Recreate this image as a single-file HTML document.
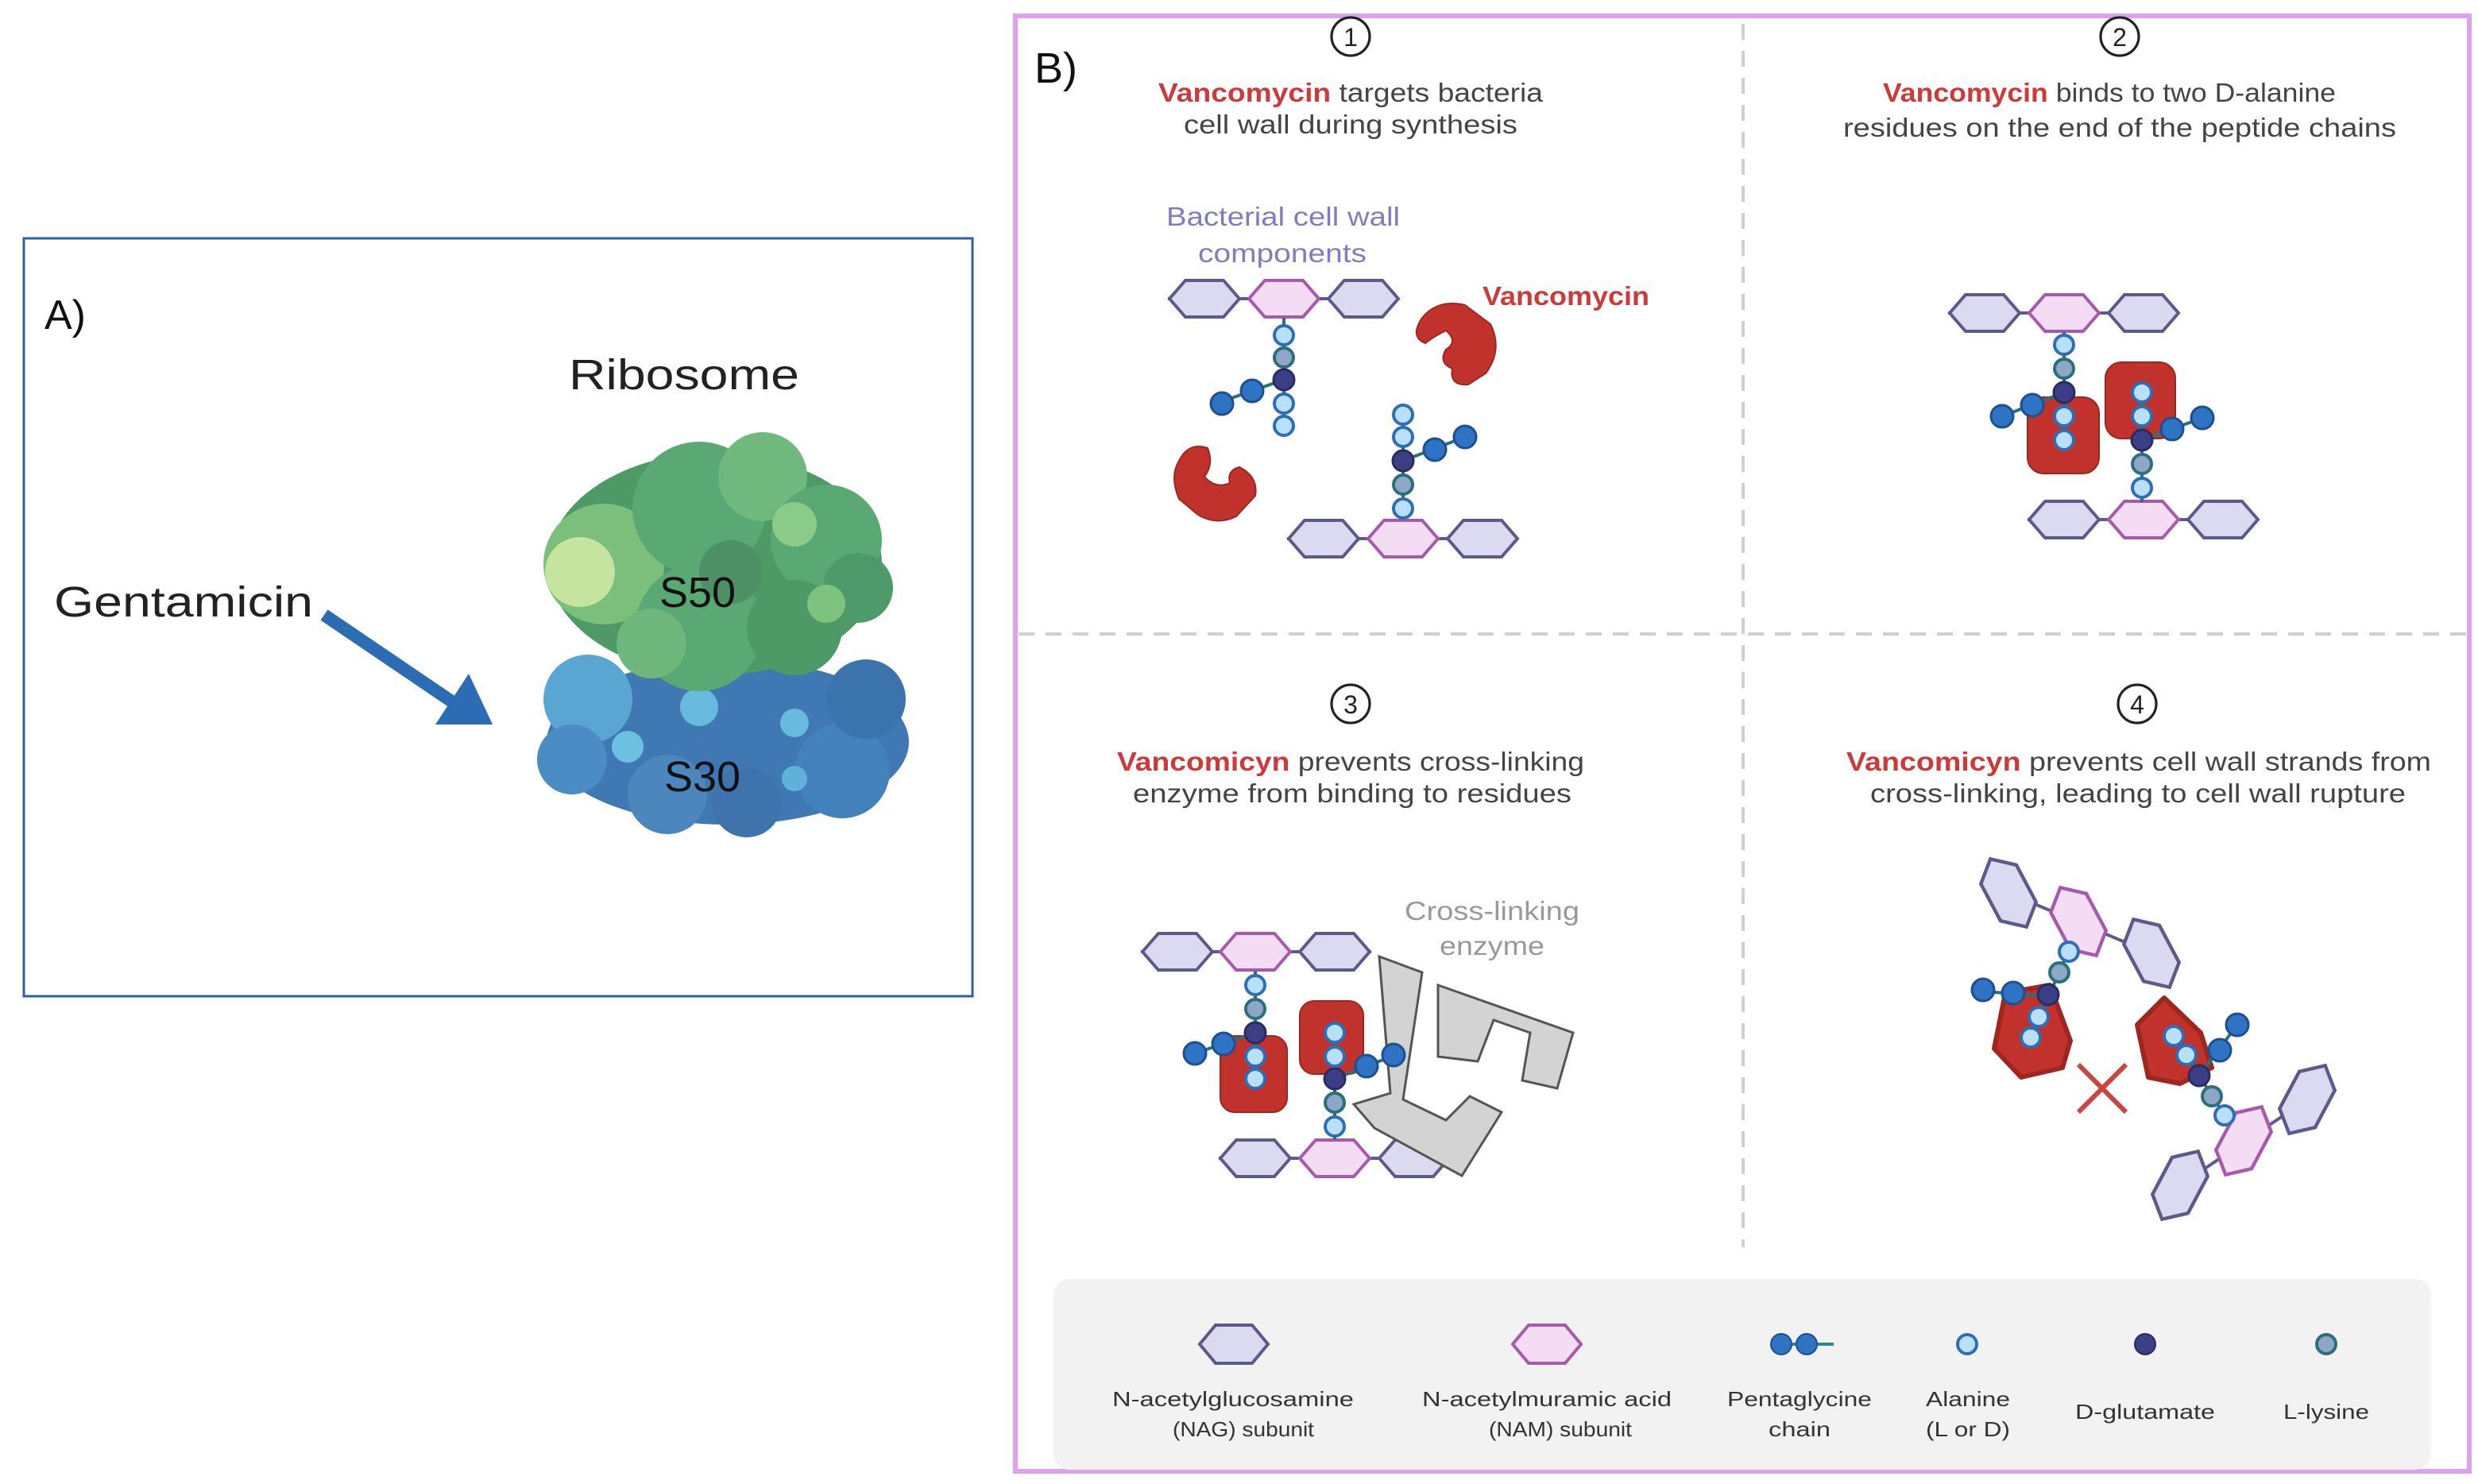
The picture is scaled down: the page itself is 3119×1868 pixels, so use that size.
<!DOCTYPE html>
<html><head><meta charset="utf-8">
<style>
html,body{margin:0;padding:0;background:#fff;}
svg{display:block;}
text{font-family:"Liberation Sans",sans-serif;}
</style></head>
<body>
<svg width="3119" height="1868" viewBox="0 0 1559.5 934" xmlns="http://www.w3.org/2000/svg">
<defs>
<polygon id="nag" points="-22,0 -12,-11.5 12,-11.5 22,0 12,11.5 -12,11.5" fill="#dcdaf0" stroke="#5c5a8a" stroke-width="2"/>
<polygon id="nam" points="-22,0 -12,-11.5 12,-11.5 22,0 12,11.5 -12,11.5" fill="#f4dcf4" stroke="#a65aab" stroke-width="2"/>
<circle id="ala" r="6" fill="#b9e0fb" stroke="#2f6db5" stroke-width="2"/>
<circle id="lys" r="6" fill="#8ea6c8" stroke="#2c6f7a" stroke-width="2"/>
<circle id="glu" r="6.5" fill="#3c3f85" stroke="#2a2c60" stroke-width="1.5"/>
<circle id="gly" r="7" fill="#2f73c4" stroke="#1d4f91" stroke-width="1.5"/>
</defs>

<!-- Panel A -->
<rect x="15" y="150" width="597" height="477" fill="#fff" stroke="#2e5fa8" stroke-width="1.5"/>
<text x="28" y="207" font-size="26" fill="#111">A)</text>
<text x="358" y="245" font-size="27" fill="#222" textLength="145" lengthAdjust="spacingAndGlyphs">Ribosome</text>
<text x="34" y="388" font-size="27" fill="#222" textLength="163" lengthAdjust="spacingAndGlyphs">Gentamicin</text>
<!-- ribosome S30 -->
<g>
<ellipse cx="458" cy="467" rx="114" ry="52" fill="#3f78b3"/>
<circle cx="370" cy="440" r="28" fill="#5aa6d2"/>
<circle cx="360" cy="478" r="22" fill="#4a8cc3"/>
<circle cx="420" cy="500" r="25" fill="#4b86bd"/>
<circle cx="470" cy="505" r="22" fill="#3e74ab"/>
<circle cx="530" cy="485" r="30" fill="#4281bb"/>
<circle cx="545" cy="440" r="25" fill="#3b73ad"/>
<circle cx="440" cy="445" r="12" fill="#67b9dd"/>
<circle cx="395" cy="470" r="10" fill="#6cc0e0"/>
<circle cx="500" cy="455" r="9" fill="#6ab9de"/>
<circle cx="500" cy="490" r="8" fill="#5fb0da"/>
</g>
<!-- ribosome S50 -->
<g>
<ellipse cx="450" cy="355" rx="105" ry="70" fill="#4e9a66"/>
<circle cx="380" cy="355" r="38" fill="#7cbf7c"/>
<circle cx="365" cy="360" r="22" fill="#c4e4a0"/>
<circle cx="440" cy="320" r="42" fill="#5aa873"/>
<circle cx="480" cy="300" r="28" fill="#6fb87e"/>
<circle cx="520" cy="340" r="35" fill="#5aa873"/>
<circle cx="540" cy="370" r="22" fill="#4f9a6a"/>
<circle cx="440" cy="395" r="40" fill="#5aa873"/>
<circle cx="500" cy="395" r="30" fill="#4e9a66"/>
<circle cx="410" cy="405" r="22" fill="#6eb67c"/>
<circle cx="460" cy="360" r="20" fill="#4e9066"/>
<circle cx="500" cy="330" r="14" fill="#8acb8a"/>
<circle cx="520" cy="380" r="12" fill="#7ec280"/>
</g>
<text x="415" y="382" font-size="27" fill="#111">S50</text>
<text x="418" y="498" font-size="27" fill="#111">S30</text>
<!-- arrow -->
<line x1="204" y1="387" x2="288" y2="444" stroke="#2b6cb5" stroke-width="8"/>
<polygon points="310,456 274,456 295,424" fill="#2b6cb5"/>

<!-- Panel B -->
<rect x="639" y="10" width="915" height="916" fill="#fff" stroke="#dfa0ee" stroke-width="3"/>
<text x="651" y="52" font-size="27" fill="#111">B)</text>
<line x1="1097" y1="15" x2="1097" y2="785" stroke="#cfcfcf" stroke-width="2" stroke-dasharray="10,7"/>
<line x1="641" y1="399" x2="1553" y2="399" stroke="#cfcfcf" stroke-width="2" stroke-dasharray="10,7"/>

<!-- circled numbers -->
<g fill="none" stroke="#222" stroke-width="1.6">
<circle cx="850" cy="23" r="12"/><circle cx="1334" cy="23" r="12"/>
<circle cx="850" cy="443" r="12"/><circle cx="1345" cy="443" r="12"/>
</g>
<g font-size="16" fill="#222" text-anchor="middle">
<text x="850" y="29">1</text><text x="1334" y="29">2</text>
<text x="850" y="449">3</text><text x="1345" y="449">4</text>
</g>

<!-- headings -->
<g font-size="16.5" fill="#444" lengthAdjust="spacingAndGlyphs">
<text x="729" y="64" textLength="242" lengthAdjust="spacingAndGlyphs"><tspan fill="#cc3a3a" font-weight="bold">Vancomycin</tspan> targets bacteria</text>
<text x="745" y="84" textLength="210" lengthAdjust="spacingAndGlyphs">cell wall during synthesis</text>
<text x="1185" y="64" textLength="285" lengthAdjust="spacingAndGlyphs"><tspan fill="#cc3a3a" font-weight="bold">Vancomycin</tspan> binds to two D-alanine</text>
<text x="1160" y="86" textLength="348" lengthAdjust="spacingAndGlyphs">residues on the end of the peptide chains</text>
<text x="703" y="485" textLength="294" lengthAdjust="spacingAndGlyphs"><tspan fill="#cc3a3a" font-weight="bold">Vancomicyn</tspan> prevents cross-linking</text>
<text x="713" y="505" textLength="276" lengthAdjust="spacingAndGlyphs">enzyme from binding to residues</text>
<text x="1162" y="485" textLength="368" lengthAdjust="spacingAndGlyphs"><tspan fill="#cc3a3a" font-weight="bold">Vancomicyn</tspan> prevents cell wall strands from</text>
<text x="1177" y="505" textLength="337" lengthAdjust="spacingAndGlyphs">cross-linking, leading to cell wall rupture</text>
</g>
<g font-size="16.5" fill="#7f7dc0">
<text x="734" y="142" textLength="147" lengthAdjust="spacingAndGlyphs">Bacterial cell wall</text>
<text x="754" y="165" textLength="106" lengthAdjust="spacingAndGlyphs">components</text>
</g>
<text x="933" y="192" font-size="16.5" font-weight="bold" fill="#cc3a3a" textLength="105" lengthAdjust="spacingAndGlyphs">Vancomycin</text>
<g font-size="16.5" fill="#999">
<text x="884" y="579" textLength="110" lengthAdjust="spacingAndGlyphs">Cross-linking</text>
<text x="906" y="601" textLength="66" lengthAdjust="spacingAndGlyphs">enzyme</text>
</g>

<!-- Q1 -->
<line x1="735" y1="188" x2="880" y2="188" stroke="#5c5a8a" stroke-width="2"/>
<use href="#nag" x="758" y="188"/><use href="#nam" x="808" y="188"/><use href="#nag" x="858" y="188"/>
<line x1="808" y1="200" x2="808" y2="268" stroke="#2c6f7a" stroke-width="2"/>
<line x1="808" y1="239" x2="768" y2="253" stroke="#2c6f7a" stroke-width="2"/>
<use href="#ala" x="808" y="211"/><use href="#lys" x="808" y="225"/><use href="#glu" x="808" y="239"/><use href="#ala" x="808" y="254"/><use href="#ala" x="808" y="268"/>
<use href="#gly" x="788" y="246"/><use href="#gly" x="769" y="254"/>
<line x1="810" y1="339" x2="955" y2="339" stroke="#5c5a8a" stroke-width="2"/>
<use href="#nag" x="833" y="339"/><use href="#nam" x="883" y="339"/><use href="#nag" x="933" y="339"/>
<line x1="883" y1="327" x2="883" y2="260" stroke="#2c6f7a" stroke-width="2"/>
<line x1="883" y1="290" x2="922" y2="275" stroke="#2c6f7a" stroke-width="2"/>
<use href="#ala" x="883" y="320"/><use href="#lys" x="883" y="305"/><use href="#glu" x="883" y="290"/><use href="#ala" x="883" y="275"/><use href="#ala" x="883" y="261"/>
<use href="#gly" x="903" y="283"/><use href="#gly" x="922" y="275"/>
<!-- vancomycin blobs -->
<path d="M895,200 Q905,188 922,192 L938,204 Q946,220 935,235 L924,242 Q912,243 914,232 Q905,228 910,220 Q918,215 910,208 Q902,212 897,216 Q887,212 895,200 Z" fill="#c0322b" stroke="#9e2620" stroke-width="1"/>
<path d="M742,290 Q748,278 760,282 Q764,292 758,300 Q765,308 774,304 Q772,296 780,294 Q792,300 790,312 L778,325 Q766,331 754,324 L742,314 Q736,300 742,290 Z" fill="#c0322b" stroke="#9e2620" stroke-width="1"/>

<!-- Q2 -->
<line x1="1226" y1="197" x2="1371" y2="197" stroke="#5c5a8a" stroke-width="2"/>
<line x1="1276" y1="327" x2="1421" y2="327" stroke="#5c5a8a" stroke-width="2"/>
<use href="#nag" x="1249" y="197"/><use href="#nam" x="1299" y="197"/><use href="#nag" x="1349" y="197"/>
<use href="#nag" x="1299" y="327"/><use href="#nam" x="1349" y="327"/><use href="#nag" x="1399" y="327"/>
<rect x="1276" y="250" width="45" height="48" rx="10" fill="#c0322b" stroke="#9e2620"/>
<rect x="1325" y="228" width="44" height="48" rx="10" fill="#c0322b" stroke="#9e2620"/>
<line x1="1299" y1="209" x2="1299" y2="277" stroke="#2c6f7a" stroke-width="2"/>
<line x1="1299" y1="247" x2="1260" y2="262" stroke="#2c6f7a" stroke-width="2"/>
<use href="#ala" x="1299" y="217"/><use href="#lys" x="1299" y="232"/><use href="#glu" x="1299" y="247"/><use href="#ala" x="1299" y="262"/><use href="#ala" x="1299" y="277"/>
<use href="#gly" x="1279" y="255"/><use href="#gly" x="1260" y="262"/>
<line x1="1348" y1="316" x2="1348" y2="247" stroke="#2c6f7a" stroke-width="2"/>
<line x1="1348" y1="277" x2="1386" y2="263" stroke="#2c6f7a" stroke-width="2"/>
<use href="#ala" x="1348" y="307"/><use href="#lys" x="1348" y="292"/><use href="#glu" x="1348" y="277"/><use href="#ala" x="1348" y="262"/><use href="#ala" x="1348" y="247"/>
<use href="#gly" x="1367" y="270"/><use href="#gly" x="1386" y="263"/>

<!-- Q3 -->
<line x1="718" y1="599" x2="863" y2="599" stroke="#5c5a8a" stroke-width="2"/>
<line x1="767" y1="729" x2="912" y2="729" stroke="#5c5a8a" stroke-width="2"/>
<use href="#nag" x="741" y="599"/><use href="#nam" x="790" y="599"/><use href="#nag" x="840" y="599"/>
<use href="#nag" x="790" y="729"/><use href="#nam" x="840" y="729"/><use href="#nag" x="890" y="729"/>
<polygon points="868,602 895,612 883,692 910,705 925,690 945,700 920,740 865,710 852,695 875,688" fill="#d3d3d3" stroke="#555" stroke-width="1.5"/>
<polygon points="905,620 990,650 980,685 958,680 963,650 940,642 930,668 905,665" fill="#d3d3d3" stroke="#555" stroke-width="1.5"/>
<rect x="768" y="652" width="42" height="48" rx="9" fill="#c0322b" stroke="#9e2620"/>
<rect x="818" y="630" width="40" height="46" rx="9" fill="#c0322b" stroke="#9e2620"/>
<line x1="790" y1="611" x2="790" y2="680" stroke="#2c6f7a" stroke-width="2"/>
<line x1="790" y1="650" x2="752" y2="663" stroke="#2c6f7a" stroke-width="2"/>
<use href="#ala" x="790" y="620"/><use href="#lys" x="790" y="635"/><use href="#glu" x="790" y="650"/><use href="#ala" x="790" y="665"/><use href="#ala" x="790" y="679"/>
<use href="#gly" x="770" y="657"/><use href="#gly" x="752" y="663"/>
<line x1="840" y1="717" x2="840" y2="650" stroke="#2c6f7a" stroke-width="2"/>
<line x1="840" y1="679" x2="878" y2="664" stroke="#2c6f7a" stroke-width="2"/>
<use href="#ala" x="840" y="709"/><use href="#lys" x="840" y="694"/><use href="#glu" x="840" y="679"/><use href="#ala" x="840" y="665"/><use href="#ala" x="840" y="650"/>
<use href="#gly" x="860" y="671"/><use href="#gly" x="877" y="664"/>

<!-- Q4 -->
<line x1="1264" y1="562" x2="1354" y2="600" stroke="#5c5a8a" stroke-width="2"/>
<line x1="1452" y1="692" x2="1372" y2="746" stroke="#5c5a8a" stroke-width="2"/>
<use href="#nag" transform="translate(1264,562) rotate(62) scale(1.1)"/>
<use href="#nam" transform="translate(1308,580) rotate(62) scale(1.1)"/>
<use href="#nag" transform="translate(1354,600) rotate(62) scale(1.1)"/>
<use href="#nag" transform="translate(1452,692) rotate(-62) scale(1.1)"/>
<use href="#nam" transform="translate(1412,718) rotate(-62) scale(1.1)"/>
<use href="#nag" transform="translate(1372,746) rotate(-62) scale(1.1)"/>
<path d="M1262,625 L1290,620 L1303,655 L1298,672 L1272,678 L1255,660 Z" fill="#c0322b" stroke="#9e2620" stroke-linejoin="round" stroke-width="3"/>
<path d="M1345,645 L1362,628 L1385,650 L1392,672 L1372,682 L1352,678 Z" fill="#c0322b" stroke="#9e2620" stroke-linejoin="round" stroke-width="3"/>
<line x1="1302" y1="598" x2="1278" y2="653" stroke="#2c6f7a" stroke-width="2"/>
<line x1="1289" y1="627" x2="1248" y2="624" stroke="#2c6f7a" stroke-width="2"/>
<use href="#ala" x="1302" y="599"/><use href="#lys" x="1296" y="612"/><use href="#glu" x="1289" y="626"/><use href="#ala" x="1283" y="640"/><use href="#ala" x="1278" y="653"/>
<use href="#gly" x="1267" y="625"/><use href="#gly" x="1248" y="623"/>
<line x1="1400" y1="702" x2="1368" y2="652" stroke="#2c6f7a" stroke-width="2"/>
<line x1="1384" y1="677" x2="1408" y2="645" stroke="#2c6f7a" stroke-width="2"/>
<use href="#ala" x="1400" y="702"/><use href="#lys" x="1392" y="690"/><use href="#glu" x="1384" y="677"/><use href="#ala" x="1376" y="664"/><use href="#ala" x="1368" y="652"/>
<use href="#gly" x="1397" y="661"/><use href="#gly" x="1408" y="645"/>
<g stroke="#cc4444" stroke-width="3"><line x1="1308" y1="670" x2="1338" y2="700"/><line x1="1338" y1="670" x2="1308" y2="700"/></g>

<!-- Legend -->
<rect x="663" y="805" width="867" height="120" rx="10" fill="#f2f2f2"/>
<polygon points="755,846 765,834 788,834 798,846 788,858 765,858" fill="#dcdaf0" stroke="#5c5a8a" stroke-width="2"/>
<polygon points="952,846 962,834 985,834 995,846 985,858 962,858" fill="#f4dcf4" stroke="#a65aab" stroke-width="2"/>
<line x1="1120" y1="846" x2="1154" y2="846" stroke="#2c8a8a" stroke-width="2"/>
<circle cx="1121" cy="846" r="6.5" fill="#2f73c4" stroke="#1d4f91"/>
<circle cx="1137" cy="846" r="6.5" fill="#2f73c4" stroke="#1d4f91"/>
<circle cx="1238" cy="846" r="6" fill="#b9e0fb" stroke="#2f6db5" stroke-width="2"/>
<circle cx="1350" cy="846" r="6.5" fill="#3c3f85" stroke="#2a2c60"/>
<circle cx="1464" cy="846" r="6" fill="#8ea6c8" stroke="#2c6f7a" stroke-width="2"/>
<g font-size="13" fill="#333">
<text x="700" y="885" textLength="152" lengthAdjust="spacingAndGlyphs">N-acetylglucosamine</text><text x="738" y="904" textLength="89" lengthAdjust="spacingAndGlyphs">(NAG) subunit</text>
<text x="895" y="885" textLength="157" lengthAdjust="spacingAndGlyphs">N-acetylmuramic acid</text><text x="937" y="904" textLength="90" lengthAdjust="spacingAndGlyphs">(NAM) subunit</text>
<text x="1087" y="885" textLength="91" lengthAdjust="spacingAndGlyphs">Pentaglycine</text><text x="1113" y="904" textLength="39" lengthAdjust="spacingAndGlyphs">chain</text>
<text x="1212" y="885" textLength="53" lengthAdjust="spacingAndGlyphs">Alanine</text><text x="1212" y="904" textLength="53" lengthAdjust="spacingAndGlyphs">(L or D)</text>
<text x="1306" y="893" textLength="88" lengthAdjust="spacingAndGlyphs">D-glutamate</text>
<text x="1437" y="893" textLength="54" lengthAdjust="spacingAndGlyphs">L-lysine</text>
</g>
</svg>
</body></html>
